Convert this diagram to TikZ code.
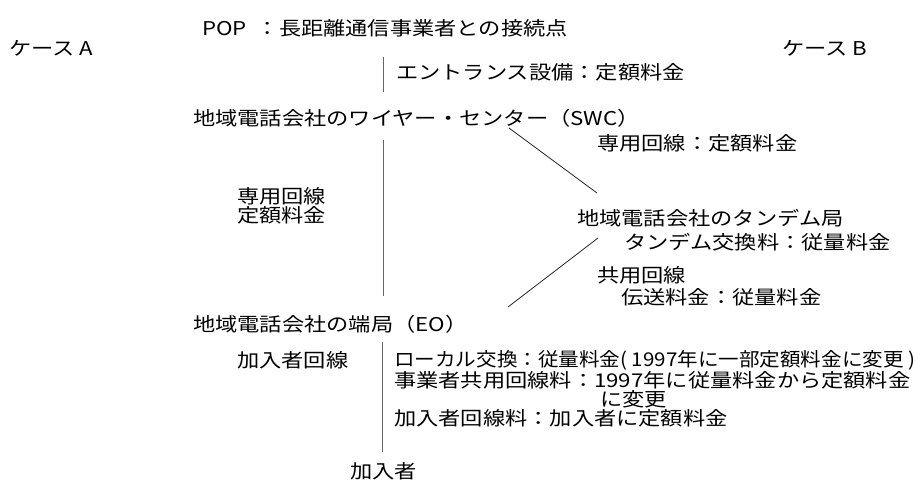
\documentclass[tikz,border=0pt]{standalone}
\usepackage{graphicx}
\usepackage{fontspec}
\setmainfont{Noto Sans CJK JP}[FakeStretch=1.17]
\begin{document}
\begin{tikzpicture}[x=1pt,y=-1pt,
  every node/.style={inner sep=0pt, anchor=west, font=\fontsize{19}{19}\selectfont},
  vline/.style={draw=black!60, line width=1pt},
  dline/.style={draw=black!85, line width=0.8pt}]
\useasboundingbox (0,0) rectangle (918,488);
\coordinate (vx) at (383,0);
\coordinate (vy) at (382,0);
% nodes
\node (caseA) at (9,48) {ケース A};
\node (pop) at (202,28) {POP\ \ ：長距離通信事業者との接続点};
\node (caseB) at (782,48) {ケース B};
\node (ent) at (396,72) {エントランス設備：定額料金};
\node (swc) at (193,118) {地域電話会社のワイヤー・センター（SWC）};
\node (sen1) at (597,143) {専用回線：定額料金};
\node (senA1) at (237,196) {専用回線};
\node (senA2) at (237,215) {定額料金};
\node (tandem) at (577,218) {地域電話会社のタンデム局};
\node (tfee) at (624,242) {タンデム交換料：従量料金};
\node (kyo) at (597,275) {共用回線};
\node (den) at (621,297) {伝送料金：従量料金};
\node (eo) at (193,324) {地域電話会社の端局（EO）};
\node (kan) at (237,360) {加入者回線};
\node (l1) at (394,360) {\scalebox{0.925}[1]{ローカル交換：従量料金( 1997年に一部定額料金に変更 )}};
\node (l2) at (394,380) {事業者共用回線料：1997年に従量料金から定額料金};
\node (l3) at (600,399) {に変更};
\node (l4) at (394,418) {加入者回線料：加入者に定額料金};
\node (sub) at (350,471) {加入者};
% connectors
\draw[vline, shorten <=20pt, shorten >=17pt] (vx |- pop.south) -- (vx |- swc.north);
\draw[vline, shorten <=13pt, shorten >=19pt] (vx |- swc.south) -- (vx |- eo.north);
\draw[vline, shorten <=9pt, shorten >=10pt] (vy |- eo.south) -- (vy |- sub.north);
\coordinate (d1a) at (509,128);
\coordinate (d1b) at (597,193);
\coordinate (d2a) at (598,238);
\coordinate (d2b) at (508,307);
\draw[dline] (d1a) -- (d1b);
\draw[dline] (d2a) -- (d2b);
\end{tikzpicture}
\end{document}
